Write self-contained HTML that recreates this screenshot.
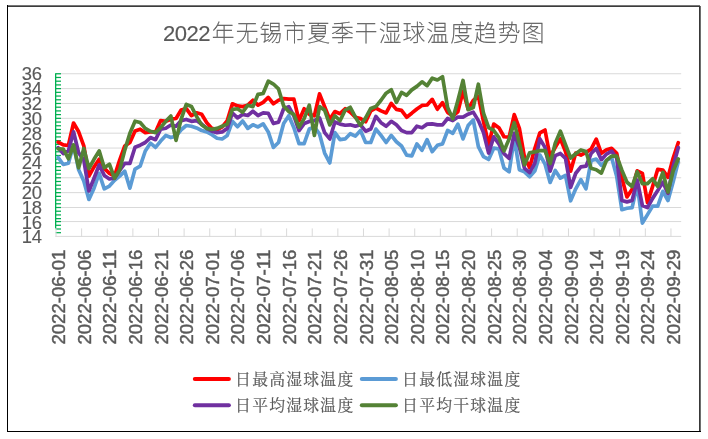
<!DOCTYPE html>
<html lang="zh-CN"><head><meta charset="utf-8"><title>2022年无锡市夏季干湿球温度趋势图</title>
<style>
html,body{margin:0;padding:0;background:#fff;}
body{width:708px;height:439px;overflow:hidden;}
svg{display:block;}
.lat{font-family:"Liberation Sans",sans-serif;}
.title{font-family:"Liberation Sans","Noto Sans CJK SC",sans-serif;font-weight:100;}
.leg{font-family:"Liberation Serif","Noto Serif CJK SC",serif;}
</style></head><body>
<svg width="708" height="439" viewBox="0 0 708 439">
<rect x="0" y="0" width="708" height="439" fill="#fff"/>
<rect x="7" y="5" width="693" height="1" fill="#767676"/>
<rect x="7" y="6" width="694" height="1" fill="#3c3c3c"/>
<rect x="700" y="6" width="1" height="426" fill="#6e6e6e"/>
<rect x="699" y="6" width="1" height="426" fill="#383838"/>
<rect x="7" y="5" width="1" height="427" fill="#000"/>
<rect x="7" y="431" width="694" height="1" fill="#000"/>
<line x1="56.0" y1="221.57" x2="681.20" y2="221.57" stroke="#d9d9d9" stroke-width="1"/>
<line x1="56.0" y1="207.50" x2="681.20" y2="207.50" stroke="#d9d9d9" stroke-width="1"/>
<line x1="56.0" y1="192.64" x2="681.20" y2="192.64" stroke="#d9d9d9" stroke-width="1"/>
<line x1="56.0" y1="177.78" x2="681.20" y2="177.78" stroke="#d9d9d9" stroke-width="1"/>
<line x1="56.0" y1="162.92" x2="681.20" y2="162.92" stroke="#d9d9d9" stroke-width="1"/>
<line x1="56.0" y1="148.06" x2="681.20" y2="148.06" stroke="#d9d9d9" stroke-width="1"/>
<line x1="56.0" y1="133.20" x2="681.20" y2="133.20" stroke="#d9d9d9" stroke-width="1"/>
<line x1="56.0" y1="118.34" x2="681.20" y2="118.34" stroke="#d9d9d9" stroke-width="1"/>
<line x1="56.0" y1="103.48" x2="681.20" y2="103.48" stroke="#d9d9d9" stroke-width="1"/>
<line x1="56.0" y1="88.62" x2="681.20" y2="88.62" stroke="#d9d9d9" stroke-width="1"/>
<line x1="56.0" y1="73.76" x2="681.20" y2="73.76" stroke="#d9d9d9" stroke-width="1"/>
<line x1="55.5" y1="236.40" x2="681.20" y2="236.40" stroke="#d9d9d9" stroke-width="1"/>
<line x1="55.65" y1="73.26" x2="55.65" y2="228.40" stroke="#00b050" stroke-width="1.3"/>
<line x1="55.7" y1="232.69" x2="61.0" y2="232.69" stroke="#00b050" stroke-width="1.25"/>
<line x1="55.7" y1="228.99" x2="61.0" y2="228.99" stroke="#00b050" stroke-width="1.25"/>
<line x1="55.7" y1="225.28" x2="61.0" y2="225.28" stroke="#00b050" stroke-width="1.25"/>
<line x1="55.7" y1="221.57" x2="61.0" y2="221.57" stroke="#00b050" stroke-width="1.25"/>
<line x1="55.7" y1="218.65" x2="61.0" y2="218.65" stroke="#00b050" stroke-width="1.25"/>
<line x1="55.7" y1="214.93" x2="61.0" y2="214.93" stroke="#00b050" stroke-width="1.25"/>
<line x1="55.7" y1="211.22" x2="61.0" y2="211.22" stroke="#00b050" stroke-width="1.25"/>
<line x1="55.7" y1="207.50" x2="61.0" y2="207.50" stroke="#00b050" stroke-width="1.25"/>
<line x1="55.7" y1="203.78" x2="61.0" y2="203.78" stroke="#00b050" stroke-width="1.25"/>
<line x1="55.7" y1="200.07" x2="61.0" y2="200.07" stroke="#00b050" stroke-width="1.25"/>
<line x1="55.7" y1="196.35" x2="61.0" y2="196.35" stroke="#00b050" stroke-width="1.25"/>
<line x1="55.7" y1="192.64" x2="61.0" y2="192.64" stroke="#00b050" stroke-width="1.25"/>
<line x1="55.7" y1="188.93" x2="61.0" y2="188.93" stroke="#00b050" stroke-width="1.25"/>
<line x1="55.7" y1="185.21" x2="61.0" y2="185.21" stroke="#00b050" stroke-width="1.25"/>
<line x1="55.7" y1="181.50" x2="61.0" y2="181.50" stroke="#00b050" stroke-width="1.25"/>
<line x1="55.7" y1="177.78" x2="61.0" y2="177.78" stroke="#00b050" stroke-width="1.25"/>
<line x1="55.7" y1="174.06" x2="61.0" y2="174.06" stroke="#00b050" stroke-width="1.25"/>
<line x1="55.7" y1="170.35" x2="61.0" y2="170.35" stroke="#00b050" stroke-width="1.25"/>
<line x1="55.7" y1="166.63" x2="61.0" y2="166.63" stroke="#00b050" stroke-width="1.25"/>
<line x1="55.7" y1="162.92" x2="61.0" y2="162.92" stroke="#00b050" stroke-width="1.25"/>
<line x1="55.7" y1="159.20" x2="61.0" y2="159.20" stroke="#00b050" stroke-width="1.25"/>
<line x1="55.7" y1="155.49" x2="61.0" y2="155.49" stroke="#00b050" stroke-width="1.25"/>
<line x1="55.7" y1="151.78" x2="61.0" y2="151.78" stroke="#00b050" stroke-width="1.25"/>
<line x1="55.7" y1="148.06" x2="61.0" y2="148.06" stroke="#00b050" stroke-width="1.25"/>
<line x1="55.7" y1="144.34" x2="61.0" y2="144.34" stroke="#00b050" stroke-width="1.25"/>
<line x1="55.7" y1="140.63" x2="61.0" y2="140.63" stroke="#00b050" stroke-width="1.25"/>
<line x1="55.7" y1="136.92" x2="61.0" y2="136.92" stroke="#00b050" stroke-width="1.25"/>
<line x1="55.7" y1="133.20" x2="61.0" y2="133.20" stroke="#00b050" stroke-width="1.25"/>
<line x1="55.7" y1="129.49" x2="61.0" y2="129.49" stroke="#00b050" stroke-width="1.25"/>
<line x1="55.7" y1="125.77" x2="61.0" y2="125.77" stroke="#00b050" stroke-width="1.25"/>
<line x1="55.7" y1="122.06" x2="61.0" y2="122.06" stroke="#00b050" stroke-width="1.25"/>
<line x1="55.7" y1="118.34" x2="61.0" y2="118.34" stroke="#00b050" stroke-width="1.25"/>
<line x1="55.7" y1="114.62" x2="61.0" y2="114.62" stroke="#00b050" stroke-width="1.25"/>
<line x1="55.7" y1="110.91" x2="61.0" y2="110.91" stroke="#00b050" stroke-width="1.25"/>
<line x1="55.7" y1="107.20" x2="61.0" y2="107.20" stroke="#00b050" stroke-width="1.25"/>
<line x1="55.7" y1="103.48" x2="61.0" y2="103.48" stroke="#00b050" stroke-width="1.25"/>
<line x1="55.7" y1="99.77" x2="61.0" y2="99.77" stroke="#00b050" stroke-width="1.25"/>
<line x1="55.7" y1="96.05" x2="61.0" y2="96.05" stroke="#00b050" stroke-width="1.25"/>
<line x1="55.7" y1="92.34" x2="61.0" y2="92.34" stroke="#00b050" stroke-width="1.25"/>
<line x1="55.7" y1="88.62" x2="61.0" y2="88.62" stroke="#00b050" stroke-width="1.25"/>
<line x1="55.7" y1="84.91" x2="61.0" y2="84.91" stroke="#00b050" stroke-width="1.25"/>
<line x1="55.7" y1="81.19" x2="61.0" y2="81.19" stroke="#00b050" stroke-width="1.25"/>
<line x1="55.7" y1="77.47" x2="61.0" y2="77.47" stroke="#00b050" stroke-width="1.25"/>
<line x1="55.7" y1="73.76" x2="61.0" y2="73.76" stroke="#00b050" stroke-width="1.25"/>
<line x1="56.00" y1="228.40" x2="56.00" y2="236.90" stroke="#d9d9d9" stroke-width="1"/>
<line x1="81.62" y1="228.40" x2="81.62" y2="236.90" stroke="#d9d9d9" stroke-width="1"/>
<line x1="107.25" y1="228.40" x2="107.25" y2="236.90" stroke="#d9d9d9" stroke-width="1"/>
<line x1="132.87" y1="228.40" x2="132.87" y2="236.90" stroke="#d9d9d9" stroke-width="1"/>
<line x1="158.49" y1="228.40" x2="158.49" y2="236.90" stroke="#d9d9d9" stroke-width="1"/>
<line x1="184.12" y1="228.40" x2="184.12" y2="236.90" stroke="#d9d9d9" stroke-width="1"/>
<line x1="209.74" y1="228.40" x2="209.74" y2="236.90" stroke="#d9d9d9" stroke-width="1"/>
<line x1="235.36" y1="228.40" x2="235.36" y2="236.90" stroke="#d9d9d9" stroke-width="1"/>
<line x1="260.98" y1="228.40" x2="260.98" y2="236.90" stroke="#d9d9d9" stroke-width="1"/>
<line x1="286.61" y1="228.40" x2="286.61" y2="236.90" stroke="#d9d9d9" stroke-width="1"/>
<line x1="312.23" y1="228.40" x2="312.23" y2="236.90" stroke="#d9d9d9" stroke-width="1"/>
<line x1="337.85" y1="228.40" x2="337.85" y2="236.90" stroke="#d9d9d9" stroke-width="1"/>
<line x1="363.48" y1="228.40" x2="363.48" y2="236.90" stroke="#d9d9d9" stroke-width="1"/>
<line x1="389.10" y1="228.40" x2="389.10" y2="236.90" stroke="#d9d9d9" stroke-width="1"/>
<line x1="414.72" y1="228.40" x2="414.72" y2="236.90" stroke="#d9d9d9" stroke-width="1"/>
<line x1="440.35" y1="228.40" x2="440.35" y2="236.90" stroke="#d9d9d9" stroke-width="1"/>
<line x1="465.97" y1="228.40" x2="465.97" y2="236.90" stroke="#d9d9d9" stroke-width="1"/>
<line x1="491.59" y1="228.40" x2="491.59" y2="236.90" stroke="#d9d9d9" stroke-width="1"/>
<line x1="517.21" y1="228.40" x2="517.21" y2="236.90" stroke="#d9d9d9" stroke-width="1"/>
<line x1="542.84" y1="228.40" x2="542.84" y2="236.90" stroke="#d9d9d9" stroke-width="1"/>
<line x1="568.46" y1="228.40" x2="568.46" y2="236.90" stroke="#d9d9d9" stroke-width="1"/>
<line x1="594.08" y1="228.40" x2="594.08" y2="236.90" stroke="#d9d9d9" stroke-width="1"/>
<line x1="619.71" y1="228.40" x2="619.71" y2="236.90" stroke="#d9d9d9" stroke-width="1"/>
<line x1="645.33" y1="228.40" x2="645.33" y2="236.90" stroke="#d9d9d9" stroke-width="1"/>
<line x1="670.95" y1="228.40" x2="670.95" y2="236.90" stroke="#d9d9d9" stroke-width="1"/>
<polyline points="58.16,142.08 63.29,144.91 68.41,145.47 73.54,123.02 78.66,131.77 83.79,145.90 88.91,176.13 94.03,166.95 99.16,159.18 104.28,168.36 109.41,173.31 114.53,176.13 119.66,160.02 124.78,145.90 129.91,142.37 135.03,131.07 140.16,129.23 145.28,132.60 150.41,131.90 155.53,131.90 160.65,120.60 165.78,121.31 170.90,119.19 176.03,118.48 181.15,110.01 186.28,108.59 191.40,115.66 196.53,112.83 201.65,114.24 206.78,122.72 211.90,128.37 217.02,129.78 222.15,126.95 227.27,120.60 232.40,103.78 237.52,105.90 242.65,106.60 247.77,105.19 252.90,100.25 258.02,105.19 263.15,102.37 268.27,97.42 273.40,103.78 278.52,100.25 283.64,98.55 288.77,99.12 293.89,99.12 299.02,120.73 304.14,108.72 309.27,114.37 314.39,115.79 319.52,93.89 324.64,106.60 329.77,119.32 334.89,111.55 340.02,113.67 345.14,108.72 350.26,112.25 355.39,117.20 360.51,118.61 365.64,121.72 370.76,110.84 375.89,108.02 381.01,110.84 386.14,112.96 391.26,103.36 396.39,109.43 401.51,110.42 406.64,117.20 411.76,113.20 416.88,108.96 422.01,105.43 427.13,105.01 432.26,99.36 437.38,109.24 442.51,102.60 447.63,112.49 452.76,116.02 457.88,111.79 463.01,91.31 468.13,108.96 473.25,100.49 478.38,96.25 483.50,121.67 488.63,144.60 493.75,124.12 498.88,127.66 504.00,136.78 509.13,137.20 514.25,114.60 519.38,128.31 524.50,157.26 529.63,167.60 534.75,148.79 539.87,132.84 545.00,130.01 550.12,156.98 555.25,147.37 560.37,138.90 565.50,151.61 570.62,171.13 575.75,153.02 580.87,155.14 586.00,152.32 591.12,149.07 596.25,139.18 601.37,153.31 606.49,149.77 611.62,148.36 616.74,153.31 621.87,178.02 626.99,196.95 632.12,189.19 637.24,170.85 642.37,173.37 647.49,202.60 652.62,186.36 657.74,169.34 662.87,170.05 667.99,177.32 673.11,158.25 678.24,142.71" fill="none" stroke="#ff0000" stroke-width="3.7" stroke-linejoin="round" stroke-linecap="round"/>
<polyline points="58.16,157.50 63.29,164.50 68.41,163.30 73.54,145.00 78.66,169.77 83.79,181.07 88.91,199.44 94.03,188.14 99.16,173.31 104.28,188.84 109.41,186.02 114.53,180.37 119.66,176.13 124.78,171.19 129.91,188.14 135.03,169.07 140.16,166.24 145.28,150.97 150.41,143.20 155.53,147.44 160.65,141.08 165.78,135.43 170.90,137.55 176.03,136.14 181.15,129.78 186.28,125.54 191.40,126.25 196.53,127.94 201.65,130.49 206.78,131.90 211.90,134.72 217.02,138.25 222.15,138.96 227.27,135.43 232.40,121.30 237.52,126.67 242.65,121.02 247.77,128.36 252.90,124.83 258.02,126.95 263.15,123.84 268.27,131.89 273.40,147.43 278.52,142.49 283.64,123.42 288.77,115.65 293.89,127.66 299.02,143.62 304.14,143.62 309.27,129.07 314.39,126.95 319.52,134.01 324.64,153.08 329.77,162.97 334.89,132.60 340.02,139.66 345.14,138.95 350.26,133.73 355.39,136.13 360.51,130.48 365.64,142.49 370.76,142.49 375.89,129.07 381.01,135.42 386.14,142.49 391.26,135.42 396.39,141.78 401.51,146.02 406.64,155.20 411.76,155.90 416.88,143.90 422.01,150.25 427.13,139.66 432.26,151.67 437.38,145.31 442.51,143.90 447.63,130.48 452.76,133.31 457.88,124.12 463.01,138.95 468.13,125.54 473.25,119.89 478.38,146.72 483.50,156.61 488.63,159.44 493.75,148.14 498.88,148.84 504.00,167.91 509.13,171.84 514.25,138.20 519.38,169.72 524.50,171.84 529.63,176.78 534.75,171.13 539.87,154.89 545.00,164.07 550.12,182.43 555.25,170.42 560.37,178.19 565.50,175.37 570.62,200.79 575.75,188.79 580.87,179.60 586.00,188.79 591.12,160.54 596.25,159.12 601.37,165.31 606.49,160.37 611.62,157.54 616.74,176.61 621.87,209.67 626.99,208.25 632.12,207.55 637.24,184.95 642.37,223.08 647.49,214.61 652.62,206.14 657.74,206.14 662.87,191.31 667.99,200.49 673.11,182.12 678.24,161.78" fill="none" stroke="#5b9bd5" stroke-width="3.7" stroke-linejoin="round" stroke-linecap="round"/>
<polyline points="58.16,147.60 63.29,153.67 68.41,150.84 73.54,131.77 78.66,152.96 83.79,160.02 88.91,190.96 94.03,178.25 99.16,164.83 104.28,175.42 109.41,178.95 114.53,178.25 119.66,170.48 124.78,163.42 129.91,163.42 135.03,147.31 140.16,145.19 145.28,142.49 150.41,137.55 155.53,139.67 160.65,129.30 165.78,128.20 170.90,125.00 176.03,126.25 181.15,120.60 186.28,119.47 191.40,121.31 196.53,120.60 201.65,124.13 206.78,128.37 211.90,131.19 217.02,132.60 222.15,131.90 227.27,128.37 232.40,112.96 237.52,117.90 242.65,114.37 247.77,115.50 252.90,111.27 258.02,115.50 263.15,112.96 268.27,113.24 273.40,123.55 278.52,122.14 283.64,108.72 288.77,106.60 293.89,115.79 299.02,130.62 304.14,123.55 309.27,121.44 314.39,120.73 319.52,117.90 324.64,132.60 329.77,138.95 334.89,122.01 340.02,124.12 345.14,125.25 350.26,124.83 355.39,126.24 360.51,124.83 365.64,131.19 370.76,129.07 375.89,116.36 381.01,122.71 386.14,126.24 391.26,121.30 396.39,124.83 401.51,130.48 406.64,132.60 411.76,132.60 416.88,126.24 422.01,127.66 427.13,124.12 432.26,123.84 437.38,124.83 442.51,124.83 447.63,118.47 452.76,120.59 457.88,117.06 463.01,117.06 468.13,114.24 473.25,112.12 478.38,120.59 483.50,132.60 488.63,153.08 493.75,136.84 498.88,143.90 504.00,153.73 509.13,158.39 514.25,133.25 519.38,147.37 524.50,168.31 529.63,172.54 534.75,163.36 539.87,138.90 545.00,147.37 550.12,171.13 555.25,155.59 560.37,153.47 565.50,158.42 570.62,187.37 575.75,173.25 580.87,166.89 586.00,166.19 591.12,153.47 596.25,148.53 601.37,159.66 606.49,154.01 611.62,151.19 616.74,158.25 621.87,200.49 626.99,201.90 632.12,200.49 637.24,180.01 642.37,205.43 647.49,207.55 652.62,198.37 657.74,190.60 662.87,182.12 667.99,193.42 673.11,166.72 678.24,147.66" fill="none" stroke="#7030a0" stroke-width="3.7" stroke-linejoin="round" stroke-linecap="round"/>
<polyline points="58.16,148.80 63.29,149.01 68.41,158.75 73.54,145.00 78.66,167.79 83.79,148.44 88.91,168.50 94.03,159.32 99.16,150.84 104.28,167.79 109.41,164.26 114.53,178.25 119.66,169.91 124.78,150.14 129.91,133.19 135.03,121.18 140.16,122.59 145.28,128.40 150.41,131.30 155.53,132.60 160.65,127.66 165.78,121.31 170.90,116.08 176.03,140.37 181.15,119.19 186.28,104.36 191.40,106.47 196.53,116.36 201.65,124.84 206.78,128.37 211.90,129.36 217.02,128.37 222.15,126.25 227.27,124.13 232.40,109.43 237.52,108.72 242.65,112.25 247.77,105.19 252.90,106.60 258.02,94.32 263.15,93.47 268.27,81.18 273.40,84.01 278.52,88.95 283.64,105.90 288.77,111.55 293.89,114.37 299.02,127.08 304.14,118.61 309.27,105.19 314.39,135.42 319.52,106.60 324.64,110.14 329.77,124.97 334.89,115.79 340.02,120.73 345.14,110.14 350.26,107.31 355.39,117.20 360.51,125.39 365.64,117.90 370.76,108.44 375.89,106.60 381.01,100.25 386.14,93.19 391.26,89.66 396.39,102.37 401.51,92.48 406.64,95.31 411.76,89.89 416.88,86.36 422.01,81.84 427.13,85.66 432.26,78.17 437.38,80.01 442.51,76.76 447.63,107.55 452.76,118.85 457.88,100.49 463.01,80.43 468.13,109.67 473.25,107.55 478.38,84.24 483.50,113.20 488.63,127.66 493.75,130.48 498.88,137.54 504.00,150.90 509.13,138.90 514.25,122.66 519.38,143.14 524.50,164.75 529.63,152.82 534.75,151.83 539.87,150.70 545.00,150.70 550.12,163.62 555.25,143.14 560.37,131.13 565.50,144.55 570.62,157.97 575.75,153.73 580.87,149.92 586.00,151.61 591.12,168.31 596.25,169.72 601.37,173.08 606.49,160.37 611.62,156.13 616.74,156.13 621.87,170.25 626.99,182.26 632.12,186.50 637.24,171.67 642.37,183.67 647.49,183.67 652.62,178.73 657.74,186.50 662.87,172.37 667.99,192.01 673.11,170.96 678.24,158.95" fill="none" stroke="#548235" stroke-width="3.7" stroke-linejoin="round" stroke-linecap="round"/>
<text class="lat" x="42.1" y="243.04" text-anchor="end" font-size="18.4" fill="#595959" stroke="#595959" stroke-width="0.15">14</text>
<text class="lat" x="42.1" y="229.03" text-anchor="end" font-size="18.4" fill="#595959" stroke="#595959" stroke-width="0.15">16</text>
<text class="lat" x="42.1" y="214.15" text-anchor="end" font-size="18.4" fill="#595959" stroke="#595959" stroke-width="0.15">18</text>
<text class="lat" x="42.1" y="199.26" text-anchor="end" font-size="18.4" fill="#595959" stroke="#595959" stroke-width="0.15">20</text>
<text class="lat" x="42.1" y="184.38" text-anchor="end" font-size="18.4" fill="#595959" stroke="#595959" stroke-width="0.15">22</text>
<text class="lat" x="42.1" y="169.49" text-anchor="end" font-size="18.4" fill="#595959" stroke="#595959" stroke-width="0.15">24</text>
<text class="lat" x="42.1" y="154.61" text-anchor="end" font-size="18.4" fill="#595959" stroke="#595959" stroke-width="0.15">26</text>
<text class="lat" x="42.1" y="139.73" text-anchor="end" font-size="18.4" fill="#595959" stroke="#595959" stroke-width="0.15">28</text>
<text class="lat" x="42.1" y="124.84" text-anchor="end" font-size="18.4" fill="#595959" stroke="#595959" stroke-width="0.15">30</text>
<text class="lat" x="42.1" y="109.96" text-anchor="end" font-size="18.4" fill="#595959" stroke="#595959" stroke-width="0.15">32</text>
<text class="lat" x="42.1" y="95.07" text-anchor="end" font-size="18.4" fill="#595959" stroke="#595959" stroke-width="0.15">34</text>
<text class="lat" x="42.1" y="80.19" text-anchor="end" font-size="18.4" fill="#595959" stroke="#595959" stroke-width="0.15">36</text>
<text class="lat" transform="translate(65.06,344.6) rotate(-90)" font-size="18.3" textLength="95" lengthAdjust="spacingAndGlyphs" fill="#595959" stroke="#595959" stroke-width="0.45">2022-06-01</text>
<text class="lat" transform="translate(90.69,344.6) rotate(-90)" font-size="18.3" textLength="95" lengthAdjust="spacingAndGlyphs" fill="#595959" stroke="#595959" stroke-width="0.45">2022-06-06</text>
<text class="lat" transform="translate(116.31,344.6) rotate(-90)" font-size="18.3" textLength="95" lengthAdjust="spacingAndGlyphs" fill="#595959" stroke="#595959" stroke-width="0.45">2022-06-11</text>
<text class="lat" transform="translate(141.93,344.6) rotate(-90)" font-size="18.3" textLength="95" lengthAdjust="spacingAndGlyphs" fill="#595959" stroke="#595959" stroke-width="0.45">2022-06-16</text>
<text class="lat" transform="translate(167.55,344.6) rotate(-90)" font-size="18.3" textLength="95" lengthAdjust="spacingAndGlyphs" fill="#595959" stroke="#595959" stroke-width="0.45">2022-06-21</text>
<text class="lat" transform="translate(193.18,344.6) rotate(-90)" font-size="18.3" textLength="95" lengthAdjust="spacingAndGlyphs" fill="#595959" stroke="#595959" stroke-width="0.45">2022-06-26</text>
<text class="lat" transform="translate(218.80,344.6) rotate(-90)" font-size="18.3" textLength="95" lengthAdjust="spacingAndGlyphs" fill="#595959" stroke="#595959" stroke-width="0.45">2022-07-01</text>
<text class="lat" transform="translate(244.42,344.6) rotate(-90)" font-size="18.3" textLength="95" lengthAdjust="spacingAndGlyphs" fill="#595959" stroke="#595959" stroke-width="0.45">2022-07-06</text>
<text class="lat" transform="translate(270.05,344.6) rotate(-90)" font-size="18.3" textLength="95" lengthAdjust="spacingAndGlyphs" fill="#595959" stroke="#595959" stroke-width="0.45">2022-07-11</text>
<text class="lat" transform="translate(295.67,344.6) rotate(-90)" font-size="18.3" textLength="95" lengthAdjust="spacingAndGlyphs" fill="#595959" stroke="#595959" stroke-width="0.45">2022-07-16</text>
<text class="lat" transform="translate(321.29,344.6) rotate(-90)" font-size="18.3" textLength="95" lengthAdjust="spacingAndGlyphs" fill="#595959" stroke="#595959" stroke-width="0.45">2022-07-21</text>
<text class="lat" transform="translate(346.92,344.6) rotate(-90)" font-size="18.3" textLength="95" lengthAdjust="spacingAndGlyphs" fill="#595959" stroke="#595959" stroke-width="0.45">2022-07-26</text>
<text class="lat" transform="translate(372.54,344.6) rotate(-90)" font-size="18.3" textLength="95" lengthAdjust="spacingAndGlyphs" fill="#595959" stroke="#595959" stroke-width="0.45">2022-07-31</text>
<text class="lat" transform="translate(398.16,344.6) rotate(-90)" font-size="18.3" textLength="95" lengthAdjust="spacingAndGlyphs" fill="#595959" stroke="#595959" stroke-width="0.45">2022-08-05</text>
<text class="lat" transform="translate(423.78,344.6) rotate(-90)" font-size="18.3" textLength="95" lengthAdjust="spacingAndGlyphs" fill="#595959" stroke="#595959" stroke-width="0.45">2022-08-10</text>
<text class="lat" transform="translate(449.41,344.6) rotate(-90)" font-size="18.3" textLength="95" lengthAdjust="spacingAndGlyphs" fill="#595959" stroke="#595959" stroke-width="0.45">2022-08-15</text>
<text class="lat" transform="translate(475.03,344.6) rotate(-90)" font-size="18.3" textLength="95" lengthAdjust="spacingAndGlyphs" fill="#595959" stroke="#595959" stroke-width="0.45">2022-08-20</text>
<text class="lat" transform="translate(500.65,344.6) rotate(-90)" font-size="18.3" textLength="95" lengthAdjust="spacingAndGlyphs" fill="#595959" stroke="#595959" stroke-width="0.45">2022-08-25</text>
<text class="lat" transform="translate(526.28,344.6) rotate(-90)" font-size="18.3" textLength="95" lengthAdjust="spacingAndGlyphs" fill="#595959" stroke="#595959" stroke-width="0.45">2022-08-30</text>
<text class="lat" transform="translate(551.90,344.6) rotate(-90)" font-size="18.3" textLength="95" lengthAdjust="spacingAndGlyphs" fill="#595959" stroke="#595959" stroke-width="0.45">2022-09-04</text>
<text class="lat" transform="translate(577.52,344.6) rotate(-90)" font-size="18.3" textLength="95" lengthAdjust="spacingAndGlyphs" fill="#595959" stroke="#595959" stroke-width="0.45">2022-09-09</text>
<text class="lat" transform="translate(603.15,344.6) rotate(-90)" font-size="18.3" textLength="95" lengthAdjust="spacingAndGlyphs" fill="#595959" stroke="#595959" stroke-width="0.45">2022-09-14</text>
<text class="lat" transform="translate(628.77,344.6) rotate(-90)" font-size="18.3" textLength="95" lengthAdjust="spacingAndGlyphs" fill="#595959" stroke="#595959" stroke-width="0.45">2022-09-19</text>
<text class="lat" transform="translate(654.39,344.6) rotate(-90)" font-size="18.3" textLength="95" lengthAdjust="spacingAndGlyphs" fill="#595959" stroke="#595959" stroke-width="0.45">2022-09-24</text>
<text class="lat" transform="translate(680.01,344.6) rotate(-90)" font-size="18.3" textLength="95" lengthAdjust="spacingAndGlyphs" fill="#595959" stroke="#595959" stroke-width="0.45">2022-09-29</text>
<text class="title" y="41.1" font-size="22.1" fill="#595959"><tspan x="163.00 174.75 186.50 198.25" stroke="#595959" stroke-width="0.15">2022</tspan><tspan x="211.85 235.68 259.51 283.34 307.17 331.00 354.83 378.66 402.49 426.32 450.15 473.98 497.81 521.64" y="41.4" font-size="22.7" stroke="#595959" stroke-width="0.3">年无锡市夏季干湿球温度趋势图</tspan></text>
<line x1="194.80" y1="379.1" x2="228.90" y2="379.1" stroke="#ff0000" stroke-width="4" stroke-linecap="round"/>
<text class="leg" x="235.10 252.15 269.20 286.25 303.30 320.35 337.40" y="384.85" font-size="15.8" fill="#595959" stroke="#595959" stroke-width="0.2">日最高湿球温度</text>
<line x1="361.80" y1="379.1" x2="395.90" y2="379.1" stroke="#5b9bd5" stroke-width="4" stroke-linecap="round"/>
<text class="leg" x="402.10 419.15 436.20 453.25 470.30 487.35 504.40" y="384.85" font-size="15.8" fill="#595959" stroke="#595959" stroke-width="0.2">日最低湿球温度</text>
<line x1="194.80" y1="405.3" x2="228.90" y2="405.3" stroke="#7030a0" stroke-width="4" stroke-linecap="round"/>
<text class="leg" x="235.10 252.15 269.20 286.25 303.30 320.35 337.40" y="411.05" font-size="15.8" fill="#595959" stroke="#595959" stroke-width="0.2">日平均湿球温度</text>
<line x1="361.80" y1="405.3" x2="395.90" y2="405.3" stroke="#548235" stroke-width="4" stroke-linecap="round"/>
<text class="leg" x="402.10 419.15 436.20 453.25 470.30 487.35 504.40" y="411.05" font-size="15.8" fill="#595959" stroke="#595959" stroke-width="0.2">日平均干球温度</text>
</svg></body></html>
